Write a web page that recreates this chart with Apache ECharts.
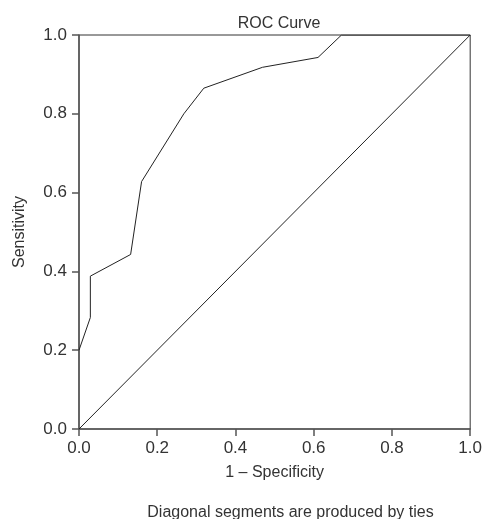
<!DOCTYPE html>
<html>
<head>
<meta charset="utf-8">
<script src="https://cdn.jsdelivr.net/npm/echarts@6/dist/echarts.min.js"></script>
<style>
html,body{margin:0;padding:0;background:#fff;}
#chart{width:485px;height:519px;}
</style>
</head>
<body>
<div id="chart"></div>
<script>
const rocX = [0, 0.029, 0.029, 0.132, 0.160, 0.268, 0.319, 0.469, 0.611, 0.671, 1];
const rocY = [0.2, 0.283, 0.388, 0.443, 0.628, 0.800, 0.865, 0.918, 0.943, 1, 1];
const refX = [0, 1];
const refY = [0, 1];
const tickLabels = ['0.0', '0.2', '0.4', '0.6', '0.8', '1.0'];

const FONT = "'Liberation Sans', Arial, sans-serif";
const TXT = '#333';
const AX = '#555';

const chart = echarts.init(document.getElementById('chart'), null, {renderer: 'canvas'});
const fmt = v => tickLabels[Math.round(v * 5)];
chart.setOption({
  animation: false,
  backgroundColor: '#fff',
  title: [
    {text: 'ROC Curve', left: 274, textAlign: 'center', top: 11,
     textStyle: {fontFamily: FONT, fontSize: 16, fontWeight: 'normal', color: TXT}},
    {text: 'Diagonal segments are produced by ties', left: 285.5, textAlign: 'center', top: 500,
     textStyle: {fontFamily: FONT, fontSize: 16, fontWeight: 'normal', color: TXT}}
  ],
  grid: {left: 79, right: 13, top: 35, bottom: 90, show: true, borderColor: '#333', borderWidth: 1},
  xAxis: {
    type: 'value', min: 0, max: 1, interval: 0.2,
    name: '1 – Specificity', nameLocation: 'middle', nameGap: 36,
    nameTextStyle: {fontFamily: FONT, fontSize: 16, color: TXT},
    axisLine: {show: true, lineStyle: {color: AX, width: 1.5}},
    axisTick: {show: true, length: 7, lineStyle: {color: AX, width: 1.5}},
    axisLabel: {fontFamily: FONT, fontSize: 17, color: TXT, margin: 11, formatter: fmt},
    splitLine: {show: false}
  },
  yAxis: {
    type: 'value', min: 0, max: 1, interval: 0.2,
    name: 'Sensitivity', nameLocation: 'middle', nameGap: 51,
    nameTextStyle: {fontFamily: FONT, fontSize: 16, color: TXT},
    axisLine: {show: true, lineStyle: {color: AX, width: 1.5}},
    axisTick: {show: true, length: 7, lineStyle: {color: AX, width: 1.5}},
    axisLabel: {fontFamily: FONT, fontSize: 17, color: TXT, margin: 12, formatter: fmt},
    splitLine: {show: false}
  },
  series: [
    {type: 'line', data: rocX.map((x, i) => [x, rocY[i]]), showSymbol: false, symbol: 'none',
     lineStyle: {color: '#222', width: 1}, silent: true},
    {type: 'line', data: refX.map((x, i) => [x, refY[i]]), showSymbol: false, symbol: 'none',
     lineStyle: {color: '#222', width: 1}, silent: true}
  ]
});
</script>
</body>
</html>
